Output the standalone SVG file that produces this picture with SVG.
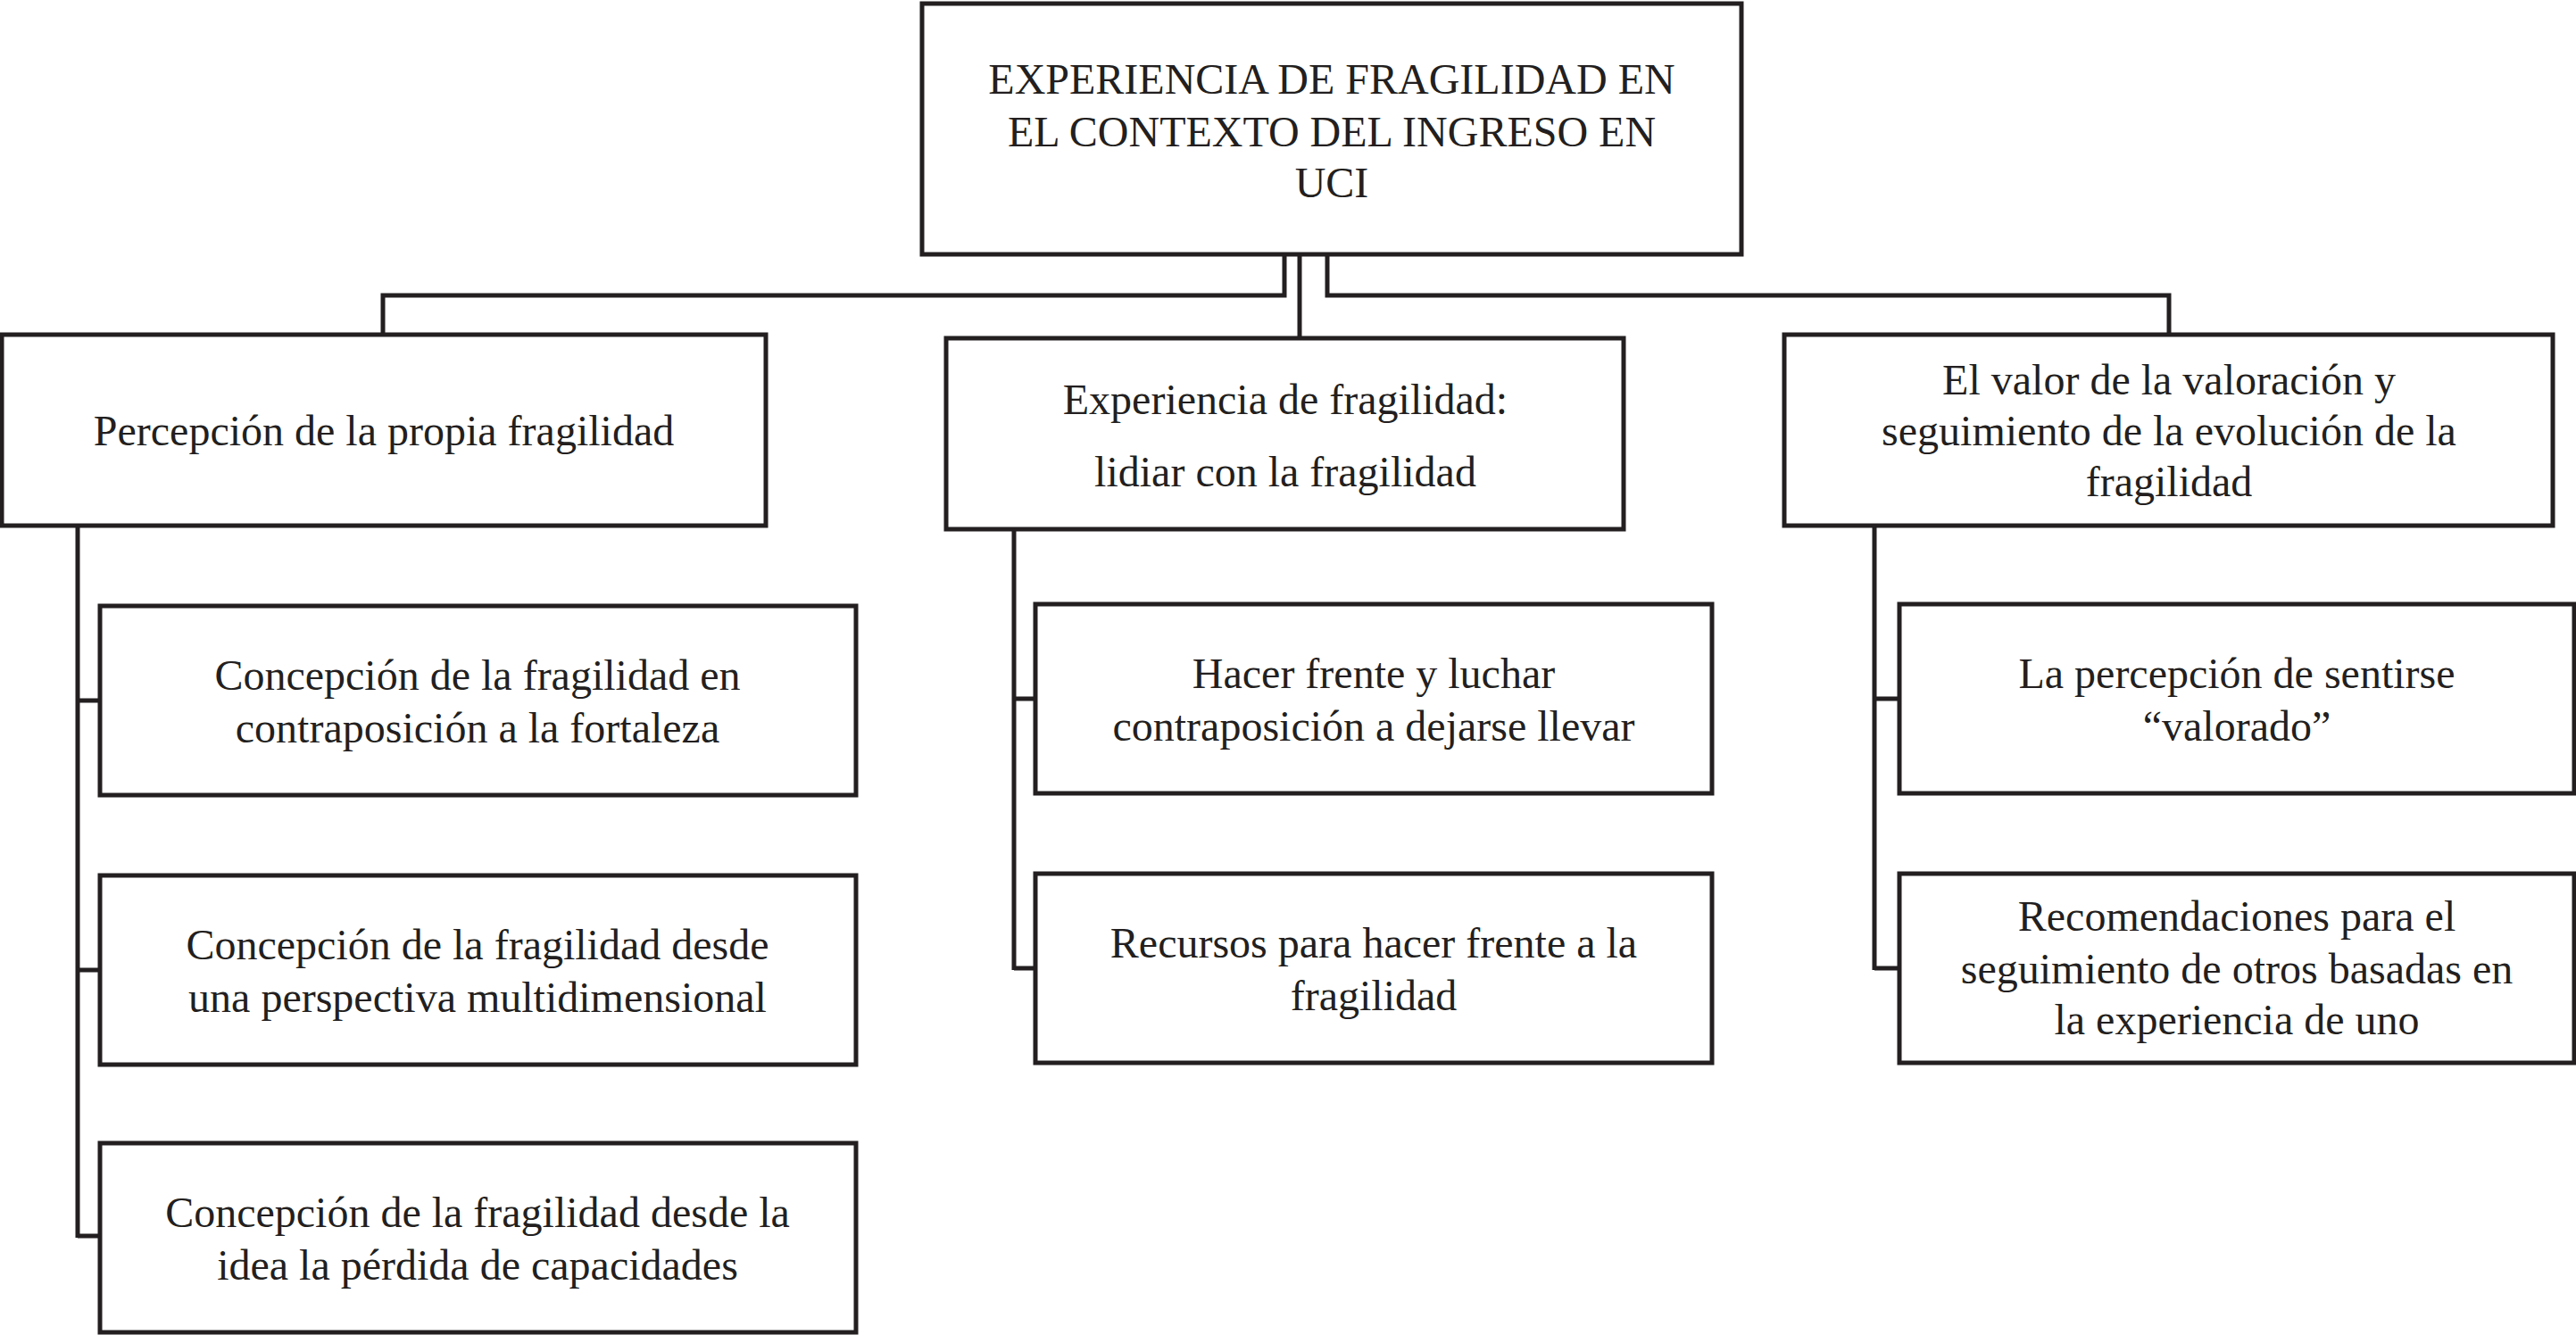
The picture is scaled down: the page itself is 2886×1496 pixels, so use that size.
<svg xmlns="http://www.w3.org/2000/svg" width="2886" height="1496" viewBox="0 0 2886 1496">
<style>
rect{fill:#fff;stroke:#231f20;stroke-width:5}
line,polyline{fill:none;stroke:#231f20;stroke-width:5}
text{font-family:"Liberation Serif","Times New Roman",serif;font-size:48px;fill:#231f20;text-anchor:middle}
</style>
<rect width="2886" height="1496" fill="#fff" style="stroke:none"/>
<g id="connectors">
<polyline points="1439,285 1439,331 429,331 429,375"/>
<polyline points="1487,285 1487,331 2430,331 2430,375"/>
<line x1="1456" y1="285" x2="1456" y2="379"/>
<polyline points="87,589 87,1387"/>
<line x1="87" y1="785" x2="112" y2="785"/>
<line x1="87" y1="1087" x2="112" y2="1087"/>
<line x1="87" y1="1385" x2="112" y2="1385"/>
<polyline points="1136,593 1136,1087"/>
<line x1="1136" y1="783" x2="1160" y2="783"/>
<line x1="1136" y1="1085" x2="1160" y2="1085"/>
<polyline points="2100,589 2100,1087"/>
<line x1="2100" y1="783" x2="2128" y2="783"/>
<line x1="2100" y1="1085" x2="2128" y2="1085"/>
</g>
<g id="root"><rect x="1033" y="4" width="918" height="281"/>
<text x="1492" y="105">EXPERIENCIA DE FRAGILIDAD EN</text>
<text x="1492" y="164">EL CONTEXTO DEL INGRESO EN</text>
<text x="1492" y="221">UCI</text></g>
<g id="n1"><rect x="2" y="375" width="856" height="214"/>
<text x="430" y="499">Percepción de la propia fragilidad</text></g>
<g id="n2"><rect x="1060" y="379" width="759" height="214"/>
<text x="1440" y="464">Experiencia de fragilidad:</text>
<text x="1440" y="545">lidiar con la fragilidad</text></g>
<g id="n3"><rect x="1999" y="375" width="861" height="214"/>
<text x="2430" y="442">El valor de la valoración y</text>
<text x="2430" y="499">seguimiento de la evolución de la</text>
<text x="2430" y="556">fragilidad</text></g>
<g id="n1a"><rect x="112" y="679" width="847" height="212"/>
<text x="535" y="773">Concepción de la fragilidad en</text>
<text x="535" y="832">contraposición a la fortaleza</text></g>
<g id="n1b"><rect x="112" y="981" width="847" height="212"/>
<text x="535" y="1075">Concepción de la fragilidad desde</text>
<text x="535" y="1134">una perspectiva multidimensional</text></g>
<g id="n1c"><rect x="112" y="1281" width="847" height="212"/>
<text x="535" y="1375">Concepción de la fragilidad  desde la</text>
<text x="535" y="1434">idea la pérdida de capacidades</text></g>
<g id="n2a"><rect x="1160" y="677" width="758" height="212"/>
<text x="1539" y="771">Hacer frente y luchar</text>
<text x="1539" y="830">contraposición a dejarse llevar</text></g>
<g id="n2b"><rect x="1160" y="979" width="758" height="212"/>
<text x="1539" y="1073">Recursos  para hacer frente a la</text>
<text x="1539" y="1132">fragilidad</text></g>
<g id="n3a"><rect x="2128" y="677" width="756" height="212"/>
<text x="2506" y="771">La percepción de sentirse</text>
<text x="2506" y="830">“valorado”</text></g>
<g id="n3b"><rect x="2128" y="979" width="756" height="212"/>
<text x="2506" y="1043">Recomendaciones para el</text>
<text x="2506" y="1102">seguimiento de otros basadas en</text>
<text x="2506" y="1159">la experiencia de uno</text></g>
</svg>
